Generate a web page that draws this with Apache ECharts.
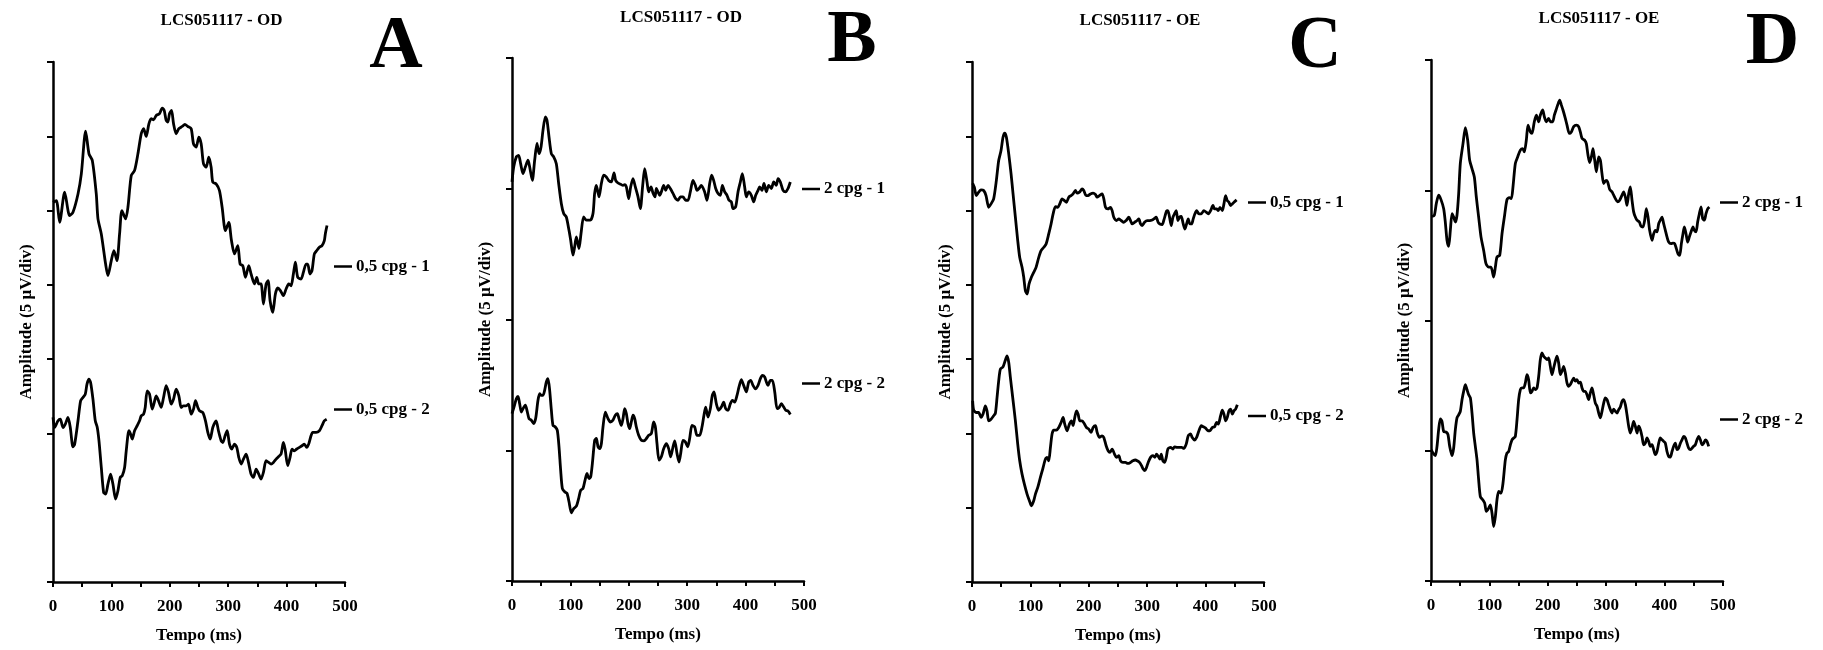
<!DOCTYPE html>
<html><head><meta charset="utf-8">
<script src="https://cdn.jsdelivr.net/npm/echarts@6/dist/echarts.min.js"></script>
<style>html,body{margin:0;padding:0;background:#fff}#c{width:1823px;height:650px}</style>
</head><body><div id="c"></div>
<script>
// ---------- data (time in ms, amplitude in µV) ----------
const panelTitles = ['LCS051117 - OD', 'LCS051117 - OD', 'LCS051117 - OE', 'LCS051117 - OE'];
const panelLetters = ['A', 'B', 'C', 'D'];
const seriesNames = [['0,5 cpg - 1', '0,5 cpg - 2'], ['2 cpg - 1', '2 cpg - 2'], ['0,5 cpg - 1', '0,5 cpg - 2'], ['2 cpg - 1', '2 cpg - 2']];
const xTickLabels = [0, 100, 200, 300, 400, 500];
const yAxisMax = [35, 20, 35, 20];
const xAxisName = 'Tempo (ms)';
const yAxisName = 'Amplitude (5 µV/div)';

const A1 = [[0,25.56],[5.7,25.67],[11.4,24.21],[20,26.24],[28.5,24.66],[34.2,24.89],[42.8,26.12],[48.5,27.47],[55.9,30.35],[61.6,28.82],[67.3,28.37],[74.1,26.12],[77,24.44],[82.7,23.43],[90.1,21.4],[94.1,20.62],[99.8,21.63],[104.3,22.3],[109.5,21.63],[114,23.43],[118,25],[124.3,24.44],[128.3,25.22],[134,27.36],[139.7,27.7],[145.4,28.82],[151.1,30.17],[155.1,30.51],[159.6,29.99],[164.2,30.84],[168.2,31.18],[172.2,31.11],[176.7,31.4],[182.4,31.52],[187,31.9],[190.4,31.74],[193.8,31.07],[196.7,30.96],[199.5,31.52],[203,31.74],[206.4,30.84],[210.9,30.17],[215.5,30.51],[221.2,30.66],[225.8,30.8],[230.9,30.66],[236.6,30.51],[240.6,29.49],[245.1,29.27],[249.7,29.94],[253.7,29.49],[257.7,28.15],[262.2,27.92],[266.8,28.6],[270.8,27.92],[273.6,26.91],[279.3,26.8],[285,26.35],[289.6,25.22],[295.3,23.65],[301,24.21],[305.6,22.98],[310.7,22.08],[316.4,22.64],[320.4,21.4],[325,21.29],[329.5,20.51],[335.2,21.29],[339.2,20.73],[344.9,20.06],[348.9,20.51],[352.3,20.06],[356.3,20.06],[360.3,18.71],[364.9,20.06],[368.3,20.28],[371.7,18.93],[376.3,18.15],[380.8,19.38],[384.8,19.79],[389.4,19.61],[394.5,19.27],[399.1,19.72],[403.6,20.06],[407.6,19.94],[411.6,20.73],[415,21.52],[419,20.51],[424.7,20.39],[428.7,20.84],[433.3,21.4],[436.1,21.4],[440.1,20.73],[443.5,20.96],[447.5,22.08],[451.5,22.3],[456.1,22.53],[460.6,22.64],[464.6,22.98],[466.3,23.43],[469.2,23.99]];
const A2 = [[0,11.08],[2.9,10.4],[8.6,10.85],[12.5,10.96],[17.1,10.4],[21.1,10.63],[25.7,11.08],[29.6,10.4],[34.2,9.1],[37.1,9.28],[42.8,10.85],[47.3,12.2],[51.3,12.42],[55.3,12.65],[58.2,13.32],[61.6,13.65],[64.4,13.43],[68.4,12.31],[72.4,10.85],[75.8,10.4],[78.7,9.51],[82.7,7.71],[86.7,6.03],[90.1,5.92],[94.1,6.59],[98.6,7.26],[102.6,6.59],[107.2,5.58],[111.2,6.14],[115.2,7.04],[118.6,7.15],[122.6,7.71],[125.4,8.83],[130,10.18],[132.8,9.96],[135.7,9.62],[139.7,10.18],[144.2,10.52],[148.2,10.85],[151.1,11.19],[155.1,11.3],[157.9,11.75],[161.3,12.87],[165.3,12.65],[169.9,11.64],[172.7,11.97],[176.7,12.53],[180.7,12.2],[185.3,11.75],[189.3,12.42],[193.8,13.21],[197.8,12.76],[202.4,11.97],[206.4,12.31],[210.9,12.98],[215.5,12.53],[219.5,11.75],[223.5,11.86],[228,11.86],[232,11.97],[236.6,11.3],[240.6,11.64],[244,12.2],[248,11.75],[250.8,11.52],[256.5,11.41],[261.1,10.85],[265.1,10.07],[269.1,9.62],[273.6,10.4],[279.3,10.85],[283.3,10.18],[287.9,9.51],[290.8,9.39],[294.7,9.84],[298.2,10.18],[302.2,9.28],[306.1,8.95],[310.7,9.28],[314.7,9.06],[318.1,8.39],[322.1,7.94],[326.1,8.27],[330.7,8.61],[334.7,8.05],[339.2,7.26],[343.2,7.04],[347.8,7.6],[352.3,7.26],[356.3,6.93],[360.3,7.38],[364.9,8.16],[369.4,8.05],[373.4,7.94],[377.4,8.05],[382,8.27],[386,8.43],[390.5,8.61],[394.5,9.39],[397.4,8.95],[401.9,7.83],[405.9,8.39],[409.3,8.95],[413.3,8.83],[417.3,8.95],[421.9,9.06],[426.4,9.17],[430.4,9.28],[434.4,9.06],[437.8,9.28],[441.8,9.84],[444.7,10.07],[450.4,10.07],[456.1,10.18],[460.6,10.52],[464.6,10.85],[468.6,10.96]];
const B1 = [[0,15.26],[2.9,15.83],[7.4,16.22],[11.4,16.28],[14.8,15.96],[18.8,15.58],[22.8,15.83],[27.4,16.09],[30.3,15.83],[34.8,15.32],[38.8,16.09],[42.8,16.73],[46.2,16.34],[49.7,16.6],[53.1,17.24],[57.1,17.75],[59.9,17.62],[63.4,16.98],[67.4,16.34],[71.4,16.22],[75.9,15.96],[79.9,15.2],[84.5,14.43],[88.5,14.05],[93,13.92],[97.6,13.41],[100.5,13.03],[104.5,12.46],[107.3,12.78],[110.2,13.16],[114.7,12.71],[118.2,13.29],[122.7,13.92],[127.3,13.8],[134.1,13.8],[138.7,14.05],[141.5,14.82],[144.4,15.13],[149,14.69],[153,15.2],[157,15.52],[161.5,15.45],[165.5,15.32],[170.1,15.26],[174.7,15.61],[177.5,15.32],[181.5,15.22],[186.1,15.17],[190.1,15.13],[192.9,15.16],[195.8,15.07],[199.8,14.62],[203.2,15.07],[207.2,15.39],[211.2,15.07],[215.8,14.69],[219.8,14.24],[223.8,15.13],[227.2,15.77],[231.2,15.26],[234,14.88],[238,15.07],[241.4,14.84],[244.9,14.69],[247.2,15.01],[250,14.88],[252.9,14.75],[255.7,14.88],[259.7,15.13],[263.1,14.94],[267.1,15.13],[271.1,15.01],[275.7,14.82],[280.3,14.62],[284.3,14.56],[288.3,14.69],[292.8,14.69],[297.4,14.56],[301.4,14.56],[305.3,14.88],[309.9,15.32],[313.9,15.13],[316.8,14.94],[320.2,15.01],[324.2,15.13],[329.9,14.88],[333.9,14.56],[338.5,15.2],[341.9,15.52],[345.3,15.32],[348.8,15.01],[352.8,14.82],[356.8,14.75],[360.2,15.13],[364.2,14.88],[368.2,14.75],[371.6,14.56],[375.6,14.5],[378.4,14.24],[383,14.31],[387,14.88],[391,15.26],[394.4,15.58],[398.4,15.07],[401.3,14.69],[405.3,14.88],[409.8,14.75],[413.8,14.5],[417.3,14.75],[421.3,14.94],[424.1,15.07],[428.1,14.94],[431.5,15.2],[435.5,14.88],[439.5,15.13],[444.1,15.01],[448.1,15.26],[452.6,15.13],[455.5,15.39],[459.5,15.26],[464.1,14.94],[468.6,14.88],[472.6,15.01],[476.6,15.26]];
const B2 = [[0,6.4],[3.4,6.65],[7.4,6.97],[10.3,7.06],[13.1,6.78],[16,6.46],[18.8,6.59],[22.8,6.72],[26.3,6.46],[29.1,6.21],[33.1,6.15],[37.1,6.02],[40.5,6.21],[44.5,6.91],[47.4,7.16],[50.2,7.1],[53.1,7.1],[55.9,7.29],[58.8,7.61],[61.6,7.74],[64.5,7.29],[67.4,6.53],[70.2,5.95],[74.2,5.89],[77.6,5.76],[80.5,5.13],[83.3,4.24],[86.2,3.54],[90.2,3.41],[94.2,3.35],[97.6,3.03],[101.6,2.61],[105.6,2.77],[110.2,2.86],[114.2,3.16],[117.6,3.47],[121.6,3.54],[125,3.85],[128.4,4.11],[131.9,3.92],[134.7,3.98],[137.6,4.49],[141.6,5.38],[144.4,5.45],[147.3,5.13],[150.2,5.06],[153,5.25],[155.8,5.89],[159.8,6.46],[164.4,6.21],[168.4,6.08],[172.9,6.15],[176.9,6.34],[180.4,6.4],[183.2,6.21],[187.2,5.95],[190.1,6.21],[192.9,6.59],[195.8,6.4],[198.6,6.02],[201.5,5.83],[204.3,6.08],[207.2,6.34],[210.1,6.21],[212.9,5.89],[216.9,5.57],[221.5,5.38],[226.1,5.36],[230.1,5.45],[234.1,5.57],[238.6,5.64],[242.6,6.08],[245.5,5.89],[248.3,5.25],[251.7,4.62],[255.7,4.75],[259.7,5.06],[264.3,5.25],[268.3,5.06],[271.7,4.75],[275.7,5.13],[278.6,5.36],[282.6,4.87],[286,4.55],[288.8,4.87],[292.8,5.38],[296.8,5.32],[300.8,5.13],[304.2,5.45],[308.2,5.95],[312.8,5.89],[316.8,5.57],[321.3,5.57],[325.3,5.89],[328.7,6.34],[331.6,6.65],[335.6,6.27],[339.6,6.59],[343,7.1],[345.9,7.23],[349.9,6.78],[353.9,6.53],[358.4,6.65],[362.4,6.84],[365.9,6.59],[369.9,6.53],[373.9,6.78],[377.3,6.91],[381.3,6.84],[385.3,7.1],[388.7,7.42],[392.7,7.7],[396.7,7.48],[401.3,7.23],[405.3,7.61],[408.7,7.67],[412.7,7.48],[416.7,7.35],[421.3,7.48],[425.3,7.74],[428.7,7.86],[432.7,7.8],[435.6,7.61],[438.5,7.48],[442.4,7.67],[445.9,7.67],[449.9,7.23],[453.9,6.59],[457.3,6.63],[461.3,6.78],[465.3,6.65],[468.7,6.53],[472.6,6.5],[476.6,6.37]];
const C1 = [[1.1,26.84],[4,26.57],[7.4,26.01],[11.4,26.24],[15.4,26.39],[20,26.35],[24,26.01],[28.6,25.22],[32.6,25.45],[37.1,25.79],[41.7,27.02],[45.7,28.37],[49.7,29.04],[53.1,29.94],[56,30.21],[58.9,29.94],[62.9,28.82],[66.9,27.47],[70.3,26.12],[74.3,24.55],[78.3,22.98],[81.7,21.85],[85.7,21.18],[88.6,20.51],[91.4,19.61],[94.3,19.38],[97.7,20.06],[101.7,20.51],[105.7,20.84],[109.7,21.18],[114.3,21.85],[118.3,22.3],[122.9,22.53],[126.9,22.75],[131.4,23.43],[135.4,24.1],[138.9,24.78],[142.9,25.27],[146.9,25.22],[150.3,25.45],[154.3,25.79],[158.3,25.67],[161.7,25.56],[165.7,25.9],[169.7,26.01],[173.1,26.12],[177.1,26.35],[180,26.17],[184,26.24],[188.6,26.46],[191.4,26.35],[195.4,26.01],[198.8,26.01],[202.8,26.12],[207.4,26.17],[211.4,26.08],[214.3,25.9],[218.3,26.01],[222.8,26.12],[225.7,25.79],[228.6,25.22],[232.6,25.11],[237.1,25.22],[240,25],[242.8,24.55],[247.4,24.33],[251.4,24.44],[255.4,24.33],[260,24.21],[264,24.33],[268.6,24.55],[271.4,24.33],[274.3,24.1],[278.3,24.21],[282.8,24.33],[285.7,24.44],[288.6,24.1],[291.4,23.99],[295.4,24.21],[300,24.33],[304.6,24.33],[308.6,24.37],[311.4,24.44],[315.4,24.55],[318.8,24.21],[321.7,24.1],[325.7,24.06],[328.6,24.37],[333.1,24.96],[335.4,25],[338.3,24.55],[341.1,23.99],[344,24.55],[346.8,24.78],[349.7,25],[352.6,24.33],[355.4,24.55],[358.3,24.6],[361.7,24.1],[364.6,23.76],[367.4,24.1],[370.3,24.44],[373.1,24.1],[376,24.1],[378.8,24.44],[381.7,24.78],[384.6,25],[388.6,24.78],[392.6,24.78],[397.1,25],[401.1,24.89],[404.6,24.78],[408.6,25],[412.6,25.34],[415.4,25.11],[418.8,25.11],[421.7,25],[424.6,25.22],[428.6,25],[431.4,25.45],[434.3,26.01],[437.1,25.67],[440,25.56],[442.8,25.34],[445.7,25.45],[448.6,25.56],[453.1,25.72]];
const C2 = [[1.1,12.2],[2.9,11.57],[6.9,11.41],[11.4,11.41],[15.4,11.08],[18.9,11.3],[22.9,11.86],[25.7,11.52],[28.6,10.85],[32.6,10.96],[37.1,11.19],[40,11.35],[42.9,12.42],[45.7,13.54],[48.6,14.33],[53.1,14.48],[57.1,14.93],[60,15.22],[62.9,14.78],[65.7,13.77],[69.7,12.42],[74.3,10.85],[78.3,9.28],[81.7,8.16],[85.7,7.26],[89.7,6.59],[94.3,5.92],[98.3,5.47],[101.7,5.13],[105.7,5.47],[108.6,5.92],[112.6,6.37],[117.1,7.04],[121.1,7.6],[125.7,8.27],[128.6,8.39],[131.4,8.16],[134.3,9.06],[137.1,9.96],[140,10.22],[144.6,10.22],[148.6,10.4],[152.6,10.74],[156,11.08],[158.8,10.63],[162.8,10.18],[166.8,10.63],[170.3,10.85],[173.1,10.52],[176,11.08],[178.9,11.52],[181.7,11.3],[184.6,10.85],[188.6,10.85],[192.6,10.63],[196,10.4],[200,10.29],[204,10.07],[207.4,10.4],[211.4,10.52],[214.3,10.07],[218.3,9.73],[222.8,9.84],[225.7,9.73],[229.7,9.17],[233.1,8.83],[236,8.72],[240,8.95],[244,8.61],[247.4,8.39],[251.4,8.5],[254.3,8.16],[258.3,8.05],[262.8,8.05],[266.8,7.98],[271.4,8.05],[275.4,8.16],[280,8.21],[282.8,8.16],[286.8,8.05],[290.3,7.83],[293.1,7.6],[296,7.49],[298.8,7.71],[301.7,8.05],[305.7,8.39],[309.7,8.5],[313.1,8.39],[316,8.61],[318.3,8.5],[321.7,8.27],[324,8.61],[326.8,8.16],[329.7,8.05],[332.6,8.39],[335.4,8.95],[340,9.06],[344,8.95],[346.8,9.1],[351.4,9.06],[355.4,9.06],[358.8,9.06],[362.8,8.99],[366.8,9.28],[370.3,9.84],[374.3,9.96],[377.1,9.73],[381.1,9.55],[384.6,9.73],[388.6,10.18],[392.6,10.52],[396,10.45],[400,10.36],[404,10.18],[407.4,10.18],[411.4,10.4],[415.4,10.45],[418.8,10.74],[421.7,10.63],[425.7,11.19],[428.6,11.57],[431.4,11.3],[434.3,10.85],[437.1,11.08],[440,11.52],[442.8,11.64],[445.7,11.3],[448.6,11.52],[451.4,11.64],[454.3,11.93]];
const D1 = [[1.7,14],[5.7,14.04],[9.1,14.49],[13.1,14.81],[17.1,14.64],[21.7,14.29],[24.5,13.78],[27.4,13.08],[30.3,12.85],[33.1,13.46],[36,14.1],[38.8,13.97],[41.7,13.78],[44.5,14.04],[47.4,14.87],[50.2,16.03],[54.8,16.79],[58.8,17.4],[62.8,16.92],[66.2,16.15],[70.2,15.83],[74.2,15.51],[77.6,14.74],[81.6,13.97],[85.6,13.21],[90.2,12.69],[94.2,12.18],[98.7,12.05],[102.7,12.05],[107.3,11.67],[110.2,12.05],[113,12.44],[117.6,12.5],[121.6,13.33],[125.6,13.97],[130.1,14.64],[134.1,14.72],[137.6,14.68],[140.4,15.13],[144.4,16.03],[148.4,16.28],[153,16.54],[157,16.6],[159.8,16.47],[163.2,16.92],[166.1,17.5],[170.1,17.24],[172.9,17.18],[176.9,17.63],[180.4,17.88],[184.4,17.63],[187.2,17.88],[191.2,18.08],[194.1,17.82],[197.5,17.63],[201.5,17.76],[204.3,17.63],[208.3,17.63],[211.2,17.88],[214.1,18.08],[216.9,18.27],[220.3,18.46],[223.2,18.27],[226,18.08],[230,17.76],[232.9,17.5],[236.9,17.18],[240.3,17.24],[244.3,17.44],[248.9,17.5],[252.9,17.44],[255.7,17.24],[258.6,16.99],[263.1,16.92],[266,16.79],[268.8,16.35],[271.7,16.06],[274.6,16.28],[277.4,16.6],[280.3,16.15],[283.1,15.71],[287.1,16.28],[290,16.15],[292.8,15.64],[295.7,15.26],[299.7,15.38],[302.5,15.32],[306,15.03],[309.9,14.94],[312.8,14.81],[315.7,14.68],[319.6,14.55],[323.1,14.62],[327.1,14.81],[329.9,14.94],[332.8,14.74],[335.6,14.42],[338.5,14.87],[341.3,15.13],[344.2,14.62],[347,14.17],[349.9,13.97],[352.8,13.85],[356.8,13.78],[359.6,13.62],[363,13.59],[365.9,13.85],[368.7,14.29],[371.6,13.97],[374.4,13.46],[378.4,13.08],[381.3,13.33],[384.1,13.46],[387,13.4],[389.9,13.72],[392.7,13.85],[395.6,13.97],[398.4,13.72],[401.3,13.46],[404.1,13.21],[407,13.01],[411,12.95],[414.4,12.97],[417.3,12.95],[420.1,12.76],[423,12.56],[425.8,12.5],[428.7,12.95],[431.5,13.33],[433.8,13.59],[436.7,13.33],[439.5,13.01],[442.4,13.21],[445.2,13.4],[448.7,13.59],[450.9,13.46],[453.8,13.4],[456.6,13.78],[459.5,14.1],[462.4,14.36],[465.2,13.91],[468.1,13.85],[470.9,14.1],[473.8,14.29],[476.6,14.36]];
const D2 = [[0.6,5.04],[3.4,4.91],[7.4,4.81],[10.3,5.17],[13.1,5.81],[16,6.22],[18.8,6.13],[21.7,5.74],[26.3,5.71],[29.1,5.62],[32,5.17],[36,4.81],[38.8,5.1],[41.7,5.81],[44.5,6.26],[47.4,6.38],[50.2,6.51],[53.1,6.96],[55.9,7.28],[58.8,7.54],[61.6,7.35],[64.5,7.15],[67.4,7.03],[70.2,6.45],[73.1,5.68],[75.9,5.17],[78.8,4.65],[81.6,3.88],[84.5,3.24],[88.5,3.12],[91.9,2.99],[94.8,2.67],[98.7,2.79],[101.6,2.92],[104.5,2.6],[107.3,2.09],[110.2,2.47],[113,3.12],[115.9,3.44],[119.9,3.37],[123.3,3.76],[127.3,4.65],[130.1,4.91],[133,4.97],[135.9,5.23],[138.7,5.42],[141.6,5.49],[144.4,5.55],[147.3,6.19],[150.1,6.96],[153,7.35],[155.8,7.41],[158.7,7.41],[161.5,7.6],[164.4,7.92],[167.2,7.73],[170.1,7.22],[172.9,7.28],[175.8,7.41],[178.7,7.35],[181.5,7.41],[184.4,7.86],[187.2,8.5],[190.1,8.76],[192.9,8.63],[195.8,8.56],[198.6,8.5],[201.5,8.56],[204.3,8.24],[207.2,7.92],[210.1,8.18],[212.9,8.44],[215.8,8.63],[218.6,8.37],[221.5,7.92],[224.3,8.05],[227.2,8.24],[230,7.99],[232.9,7.6],[235.7,7.47],[238.6,7.54],[241.4,7.67],[244.3,7.79],[247.2,7.67],[250,7.73],[252.9,7.6],[255.7,7.63],[258.6,7.41],[261.4,7.28],[264.3,7.28],[267.1,7.15],[270,6.96],[272.8,7.22],[275.7,7.41],[278.5,7.15],[281.4,6.83],[284.3,6.71],[287.1,6.45],[290,6.26],[292.8,6.51],[295.7,6.83],[298.5,7.03],[301.4,6.96],[304.2,6.77],[307.1,6.58],[309.9,6.45],[312.8,6.6],[315.7,6.51],[318.5,6.45],[321.4,6.58],[324.2,6.68],[327.1,6.9],[329.9,6.96],[332.8,6.77],[335.6,6.38],[338.5,5.94],[341.3,5.68],[344.2,5.87],[347,6.13],[349.9,5.94],[352.8,5.68],[355.6,5.94],[358.5,5.81],[361.3,5.55],[364.2,5.23],[367,5.29],[369.9,5.49],[372.7,5.36],[375.6,5.17],[378.4,5.23],[381.3,5.04],[384.1,4.85],[387,4.97],[389.9,5.29],[392.7,5.49],[395.6,5.42],[398.4,5.36],[401.3,5.29],[404.1,4.97],[407,4.78],[409.8,4.76],[412.7,4.97],[415.5,5.17],[418.4,5.29],[421.3,5.04],[424.1,5.1],[427,5.29],[429.8,5.42],[432.7,5.55],[435.5,5.49],[438.4,5.29],[441.2,5.1],[444.1,5.04],[446.9,5.1],[449.8,5.17],[452.6,5.23],[455.5,5.42],[458.4,5.55],[461.2,5.42],[464.1,5.23],[466.9,5.29],[469.8,5.42],[472.6,5.36],[475.5,5.17]];
const traces = [[A1, A2], [B1, B2], [C1, C2], [D1, D2]];

// ---------- layout (pixels) ----------
const FONT = '"Liberation Serif", "Times New Roman", serif';
const layout = [
  { grid: { left: 53, top: 62, width: 292, height: 520 }, titleX: 221.5, titleTop: 12, letterX: 396, letterY: 47.5, legendLeft: 334, legendTops: [258, 401] },
  { grid: { left: 512, top: 58, width: 292, height: 523 }, titleX: 681, titleTop: 9, letterX: 852, letterY: 42, legendLeft: 802, legendTops: [180.5, 375] },
  { grid: { left: 972, top: 62, width: 292, height: 520 }, titleX: 1140, titleTop: 12, letterX: 1315, letterY: 48, legendLeft: 1248, legendTops: [194, 407.5] },
  { grid: { left: 1431, top: 60, width: 292, height: 521 }, titleX: 1599, titleTop: 10, letterX: 1772.5, letterY: 44, legendLeft: 1720, legendTops: [194, 411] }
];

const chart = echarts.init(document.getElementById('c'), null, { renderer: 'canvas' });
const option = { animation: false, backgroundColor: '#fff', title: [], grid: [], xAxis: [], yAxis: [], series: [], legend: [], graphic: [] };
const textBase = { fontFamily: FONT, fontWeight: 'bold', color: '#000' };

layout.forEach((L, i) => {
  option.title.push({ text: panelTitles[i], left: L.titleX, top: L.titleTop, textAlign: 'center', padding: 0,
    textStyle: Object.assign({ fontSize: 17 }, textBase) });
  option.grid.push(Object.assign({ outerBoundsMode: 'none', containLabel: false }, L.grid));
  option.xAxis.push({
    type: 'value', gridIndex: i, min: xTickLabels[0], max: xTickLabels[xTickLabels.length - 1], interval: 50,
    name: xAxisName, nameLocation: 'middle', nameGap: 45,
    nameTextStyle: Object.assign({ fontSize: 17 }, textBase),
    axisLine: { show: true, onZero: false, lineStyle: { color: '#000', width: 2.5 } },
    axisTick: { show: true, length: 5, lineStyle: { color: '#000', width: 2 } },
    axisLabel: Object.assign({ fontSize: 17, margin: 16, formatter: v => (xTickLabels.indexOf(v) >= 0 ? String(v) : '') }, textBase),
    splitLine: { show: false }
  });
  option.yAxis.push({
    type: 'value', gridIndex: i, min: 0, max: yAxisMax[i], interval: 5,
    name: yAxisName, nameLocation: 'middle', nameGap: 18, nameRotate: 90,
    nameTextStyle: Object.assign({ fontSize: 17 }, textBase),
    axisLine: { show: true, onZero: false, lineStyle: { color: '#000', width: 2.5 } },
    axisTick: { show: true, length: 6, lineStyle: { color: '#000', width: 2 } },
    axisLabel: { show: false },
    splitLine: { show: false }
  });
  traces[i].forEach((data, k) => {
    option.series.push({
      type: 'line', name: seriesNames[i][k], xAxisIndex: i, yAxisIndex: i, data: data,
      showSymbol: false, symbol: 'none', smooth: 0.25,
      lineStyle: { color: '#000', width: 2.8 }, itemStyle: { color: '#000' }
    });
    option.legend.push({
      data: [seriesNames[i][k]], left: L.legendLeft, top: L.legendTops[k], padding: 0,
      icon: 'rect', itemWidth: 18, itemHeight: 2.5, itemGap: 0, selectedMode: false,
      textStyle: Object.assign({ fontSize: 17, padding: [0, 0, 0, -1] }, textBase)
    });
  });
  option.graphic.push({
    type: 'text', x: L.letterX, y: L.letterY, silent: true,
    style: { text: panelLetters[i], fill: '#000', font: 'bold 74px ' + FONT, align: 'center', verticalAlign: 'middle', textAlign: 'center', textVerticalAlign: 'middle' }
  });
});

chart.setOption(option);
</script>
</body></html>
